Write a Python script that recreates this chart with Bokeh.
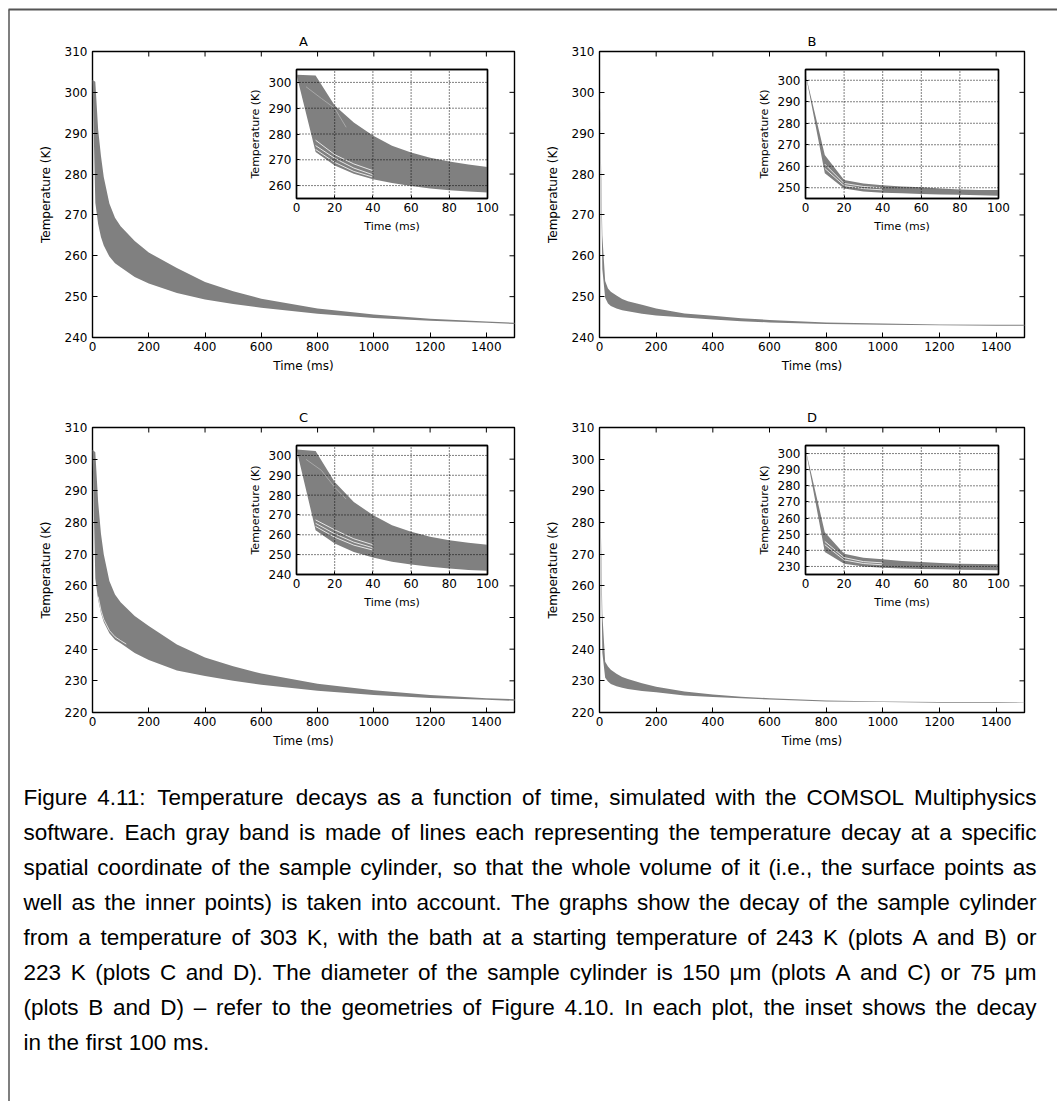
from bokeh.plotting import figure
from bokeh.models import Range1d, LinearAxis, FixedTicker
from bokeh.core.properties import value
from bokeh.embed import file_html
from bokeh.resources import INLINE

# ------------------------------------------------------------------
# Data (temperature envelopes of each gray band)
# ------------------------------------------------------------------
time_main = [0, 10, 20, 30, 40, 60, 80, 100, 150, 200, 300, 400, 500, 600, 800, 1000, 1200, 1400, 1500]
A_upper = [303, 302.6, 291.0, 284.5, 279.3, 272.8, 269.3, 267.2, 263.6, 260.8, 257.0, 253.6, 251.3, 249.5, 247.1, 245.6, 244.6, 243.9, 243.6]
A_lower = [303, 273.0, 267.8, 264.6, 262.5, 259.8, 258.2, 257.2, 254.8, 253.2, 250.9, 249.3, 248.2, 247.3, 245.8, 244.8, 244.1, 243.6, 243.3]
B_upper = [303, 265.0, 253.8, 252.0, 251.2, 250.3, 249.4, 248.9, 248.0, 247.1, 245.9, 245.3, 244.7, 244.3, 243.7, 243.4, 243.2, 243.1, 243.1]
B_lower = [303, 256.7, 249.7, 248.3, 247.7, 247.1, 246.7, 246.4, 245.8, 245.4, 244.9, 244.4, 244.0, 243.7, 243.3, 243.1, 243.0, 242.9, 242.9]
C_upper = [303, 302.2, 286.6, 276.5, 270.0, 261.5, 257.3, 254.8, 250.5, 247.3, 241.5, 237.4, 234.6, 232.3, 229.1, 227.0, 225.5, 224.5, 224.2]
C_lower = [303, 262.3, 255.6, 251.4, 248.6, 245.0, 243.0, 241.9, 238.8, 236.6, 233.3, 231.5, 230.0, 228.8, 226.9, 225.5, 224.6, 224.0, 223.7]
D_upper = [303, 251.2, 236.0, 234.5, 233.5, 232.2, 231.2, 230.6, 229.2, 228.1, 226.6, 225.7, 225.0, 224.5, 223.8, 223.5, 223.3, 223.2, 223.1]
D_lower = [303, 238.9, 231.0, 229.8, 229.0, 228.3, 227.8, 227.4, 226.8, 226.4, 225.4, 224.9, 224.5, 224.1, 223.5, 223.3, 223.1, 223.0, 223.0]

# white gap line visible near the lower edge of the main C band
C_gap_time = [20, 30, 40, 60, 80, 100, 120]
C_gap_temp = [256.6, 252.3, 249.4, 245.9, 243.9, 242.7, 241.6]

time_inset = [0, 10, 20, 30, 40, 50, 60, 70, 80, 90, 100]
A_in_upper = [303, 302.7, 291.0, 284.5, 279.4, 275.4, 272.8, 270.8, 269.3, 268.2, 267.2]
A_in_lower = [303, 273.0, 267.8, 264.6, 262.5, 261.0, 259.8, 258.9, 258.2, 257.7, 257.3]
B_in_upper = [303, 265.2, 253.6, 252.0, 251.2, 250.6, 250.2, 249.7, 249.2, 249.0, 248.9]
B_in_lower = [303, 256.7, 249.7, 248.2, 247.7, 247.4, 247.1, 246.9, 246.7, 246.5, 246.3]
C_in_upper = [303, 302.2, 286.6, 276.5, 270.0, 264.8, 261.5, 259.0, 257.3, 256.0, 255.0]
C_in_lower = [303, 262.3, 255.6, 251.4, 248.6, 246.4, 245.0, 243.9, 243.0, 242.3, 241.9]
D_in_upper = [303, 251.2, 237.9, 235.4, 234.4, 233.4, 232.7, 232.1, 231.7, 231.5, 231.3]
D_in_lower = [303, 238.9, 231.7, 230.0, 229.2, 228.7, 228.4, 228.2, 228.0, 227.8, 227.6]

# light individual lines visible inside the inset bands
gap_time = [10, 20, 30, 40]
A_in_gaps = [[277.6, 272.0, 268.4, 265.8], [275.5, 270.6, 266.8, 264.2], [274.0, 269.0, 265.5, 263.3]]
C_in_gaps = [[267.5, 262.5, 258.0, 255.0], [265.8, 260.5, 256.3, 253.5], [264.2, 258.8, 254.8, 252.3]]
B_in_gaps = [[261.0, 252.0, 250.6, 249.9], [259.0, 251.0, 249.6, 249.0]]
D_in_gaps = [[245.5, 235.5, 233.0, 232.2], [243.5, 234.0, 231.8, 231.0]]
faint_time = [5, 13, 20, 26]
A_in_faint = [298.3, 293.8, 290.0, 282.6]
C_in_faint = [298.0, 292.5, 284.0, 278.0]

xticks_main = [0, 200, 400, 600, 800, 1000, 1200, 1400]
yticks_main_AB = [240, 250, 260, 270, 280, 290, 300, 310]
yticks_main_CD = [220, 230, 240, 250, 260, 270, 280, 290, 300, 310]
xticks_inset = [0, 20, 40, 60, 80, 100]
yticks_inset_A = [260, 270, 280, 290, 300]
yticks_inset_B = [250, 260, 270, 280, 290, 300]
yticks_inset_C = [240, 250, 260, 270, 280, 290, 300]
yticks_inset_D = [230, 240, 250, 260, 270, 280, 290, 300]

x_label = "Time (ms)"
y_label = "Temperature (K)"
panel_titles = ["A", "B", "C", "D"]

caption_lines = [
    "Figure 4.11: Temperature decays as a function of time, simulated with the COMSOL Multiphysics",
    "software. Each gray band is made of lines each representing the temperature decay at a specific",
    "spatial coordinate of the sample cylinder, so that the whole volume of it (i.e., the surface points as",
    "well as the inner points) is taken into account. The graphs show the decay of the sample cylinder",
    "from a temperature of 303 K, with the bath at a starting temperature of 243 K (plots A and B) or",
    "223 K (plots C and D). The diameter of the sample cylinder is 150 \u03bcm (plots A and C) or 75 \u03bcm",
    "(plots B and D) \u2013 refer to the geometries of Figure 4.10. In each plot, the inset shows the decay",
    "in the first 100 ms.",
]

# ------------------------------------------------------------------
# Layout (page pixels) and styles
# ------------------------------------------------------------------
W, H = 1057, 1101
MAIN_BOX = {"A": (92, 514, 51, 337), "B": (599, 1024, 51, 337),
            "C": (92, 514, 427, 712), "D": (599, 1024, 427, 712)}
INSET_BOX = {"A": (296, 487, 69, 198), "B": (805, 998, 69, 198),
             "C": (296, 487, 445, 574), "D": (805, 998, 445, 574)}
MAIN_XLIM = (0, 1500)
MAIN_YLIM = {"A": (240, 310), "B": (240, 310), "C": (220, 310), "D": (220, 310)}
INSET_XLIM = (0, 100)
INSET_YLIM = {"A": (255, 305), "B": (245, 305), "C": (240, 305), "D": (225, 305)}
GRAY = "#808080"
AX_FONT = "DejaVu Sans"
TITLE_GAP = 10  # px between frame top and title baseline

p = figure(width=W, height=H, x_range=Range1d(0, W), y_range=Range1d(H, 0),
           x_axis_type=None, y_axis_type=None, toolbar_location=None,
           output_backend="svg", min_border=0, outline_line_color=None,
           background_fill_color="white", border_fill_color="white")


def x_range_for(lim, px0, px1):
    k = (lim[1] - lim[0]) / (px1 - px0)
    return Range1d(lim[0] - px0 * k, lim[0] + (W - px0) * k)


def y_range_for(lim, py_top, py_bot):
    k = (lim[1] - lim[0]) / (py_bot - py_top)
    return Range1d(lim[0] - (H - py_bot) * k, lim[1] + py_top * k)


def add_box(key, xlim, ylim, box, xticks, yticks, tick_px, label_px, tick_len,
            xl_standoff, yl_standoff, white_fill, side_ticks):
    px0, px1, py0, py1 = box
    xn, yn = key + "_x", key + "_y"
    p.extra_x_ranges[xn] = x_range_for(xlim, px0, px1)
    p.extra_y_ranges[yn] = y_range_for(ylim, py0, py1)
    kw = dict(x_range_name=xn, y_range_name=yn)
    p.quad(left=[xlim[0]], right=[xlim[1]], bottom=[ylim[0]], top=[ylim[1]],
           fill_color="white" if white_fill else None, line_color="black",
           line_width=1.4, **kw)
    common = dict(axis_line_color=None, major_tick_in=tick_len, major_tick_out=0,
                  major_tick_line_color="black", major_tick_line_width=1,
                  minor_tick_line_color=None,
                  major_label_text_font=AX_FONT, major_label_text_font_size=tick_px,
                  major_label_text_color="black",
                  axis_label_text_font=AX_FONT, axis_label_text_font_size=label_px,
                  axis_label_text_font_style="normal", axis_label_text_color="black")
    xa = LinearAxis(fixed_location=ylim[0], bounds=xlim, ticker=FixedTicker(ticks=xticks),
                    axis_label=x_label, major_label_standoff=4,
                    axis_label_standoff=xl_standoff, **kw, **common)
    ya = LinearAxis(fixed_location=xlim[0], bounds=ylim, ticker=FixedTicker(ticks=yticks),
                    axis_label=y_label, major_label_standoff=5,
                    axis_label_standoff=yl_standoff, **kw, **common)
    p.add_layout(xa, "below")
    p.add_layout(ya, "left")
    dx = (xlim[1] - xlim[0]) / (px1 - px0)   # data units per pixel
    dy = (ylim[1] - ylim[0]) / (py1 - py0)
    if side_ticks:
        tx = [t for t in xticks if xlim[0] < t < xlim[1]]
        ty = [t for t in yticks if ylim[0] < t < ylim[1]]
        p.segment(x0=tx, x1=tx, y0=[ylim[1]] * len(tx), y1=[ylim[1] - tick_len * dy] * len(tx),
                  line_color="black", line_width=1, **kw)
        p.segment(x0=[xlim[1]] * len(ty), x1=[xlim[1] - tick_len * dx] * len(ty), y0=ty, y1=ty,
                  line_color="black", line_width=1, **kw)
    return kw, dx, dy


def add_grid(kw, xlim, ylim, xticks, yticks):
    gx = [t for t in xticks if xlim[0] < t < xlim[1]]
    gy = [t for t in yticks if ylim[0] < t < ylim[1]]
    p.segment(x0=gx, x1=gx, y0=[ylim[0]] * len(gx), y1=[ylim[1]] * len(gx),
              line_color="black", line_width=1, line_dash="1 2", **kw)
    p.segment(x0=[xlim[0]] * len(gy), x1=[xlim[1]] * len(gy), y0=gy, y1=gy,
              line_color="black", line_width=1, line_dash="1 2", **kw)


main_data = {"A": (A_upper, A_lower), "B": (B_upper, B_lower),
             "C": (C_upper, C_lower), "D": (D_upper, D_lower)}
inset_data = {"A": (A_in_upper, A_in_lower), "B": (B_in_upper, B_in_lower),
              "C": (C_in_upper, C_in_lower), "D": (D_in_upper, D_in_lower)}
main_yticks = {"A": yticks_main_AB, "B": yticks_main_AB, "C": yticks_main_CD, "D": yticks_main_CD}
inset_yticks = {"A": yticks_inset_A, "B": yticks_inset_B, "C": yticks_inset_C, "D": yticks_inset_D}
inset_gaps = {"A": A_in_gaps, "B": B_in_gaps, "C": C_in_gaps, "D": D_in_gaps}
inset_faint = {"A": A_in_faint, "C": C_in_faint}

for key in panel_titles:
    # main axes
    ylim = MAIN_YLIM[key]
    up, lo = main_data[key]
    kw, dx, dy = add_box(key, MAIN_XLIM, ylim, MAIN_BOX[key], xticks_main, main_yticks[key],
                         "12px", "12px", 5, 5, 9, False, True)
    p.varea(x=time_main, y1=lo, y2=up, fill_color=GRAY, **kw)
    if key == "C":
        p.line(x=C_gap_time, y=C_gap_temp, line_color="white", line_width=1, line_alpha=0.75, **kw)
    p.text(x=[(MAIN_XLIM[0] + MAIN_XLIM[1]) / 2], y=[ylim[1] + TITLE_GAP * dy], text=[key],
           text_align="center", text_baseline="alphabetic",
           text_font=value(AX_FONT), text_font_size=value("13px"), text_color="black", **kw)

    # inset axes
    ik = "in" + key
    iylim = INSET_YLIM[key]
    iup, ilo = inset_data[key]
    kwi, _, _ = add_box(ik, INSET_XLIM, iylim, INSET_BOX[key], xticks_inset, inset_yticks[key],
                        "12px", "11px", 3, 5, 4, True, False)
    p.varea(x=time_inset, y1=ilo, y2=iup, fill_color=GRAY, **kwi)
    gaps = inset_gaps[key]
    p.multi_line(xs=[gap_time] * len(gaps), ys=gaps, line_color="white", line_width=1,
                 line_alpha=0.8, **kwi)
    if key in inset_faint:
        p.line(x=faint_time, y=inset_faint[key], line_color="#a8a8a8", line_width=1, **kwi)
    add_grid(kwi, INSET_XLIM, iylim, xticks_inset, inset_yticks[key])
    # redraw inset frame on top of the band
    p.quad(left=[INSET_XLIM[0]], right=[INSET_XLIM[1]], bottom=[iylim[0]], top=[iylim[1]],
           fill_color=None, line_color="black", line_width=1.4, **kwi)

# page border (top and left rules)
p.segment(x0=[8], x1=[W], y0=[9], y1=[9], line_color="#555555", line_width=2)
p.segment(x0=[8.5], x1=[8.5], y0=[9], y1=[H], line_color="#555555", line_width=1.5)

# ------------------------------------------------------------------
# Caption: justified word by word (Arial / Liberation Sans metrics)
# ------------------------------------------------------------------
_wid = {" ": 278, "(": 333, ")": 333, ",": 278, "-": 333, ".": 278, ":": 278,
        "\u2013": 556, "\u03bc": 576}
for ch in "0123456789":
    _wid[ch] = 556
_wid.update(dict(A=667, B=667, C=722, D=722, E=667, F=611, G=778, H=722, I=278, J=500,
                 K=667, L=556, M=833, N=722, O=778, P=667, Q=778, R=722, S=667, T=611,
                 U=722, V=667, W=944, X=667, Y=667, Z=611))
_wid.update(dict(a=556, b=556, c=500, d=556, e=556, f=278, g=556, h=556, i=222, j=222,
                 k=500, l=222, m=833, n=556, o=556, p=556, q=556, r=333, s=500, t=278,
                 u=556, v=500, w=722, x=500, y=500, z=500))


def em_width(s):
    return sum(_wid.get(c, 556) for c in s) / 1000.0


CAP_L, CAP_R = 23, 1036
CAP_BASE, CAP_STEP = 797, 35
natural = [em_width(l) for l in caption_lines[:-1]]
cap_size = min(22.5, 0.975 * (CAP_R - CAP_L) / max(natural))

wx, wy, wt = [], [], []
for i, line in enumerate(caption_lines):
    words = line.split(" ")
    widths = [em_width(w) * cap_size for w in words]
    if i < len(caption_lines) - 1:
        gap = (CAP_R - CAP_L - sum(widths)) / (len(words) - 1)
    else:
        gap = 0.3 * cap_size
    x = CAP_L
    for w, wd in zip(words, widths):
        wx.append(x)
        wy.append(CAP_BASE + i * CAP_STEP)
        wt.append(w)
        x += wd + gap

p.text(x=wx, y=wy, text=wt, text_align="left", text_baseline="alphabetic",
       text_font=value("Liberation Sans"), text_font_size=value("%.2fpx" % cap_size),
       text_color="black")

open("out.html", "w").write(file_html(p, INLINE))
